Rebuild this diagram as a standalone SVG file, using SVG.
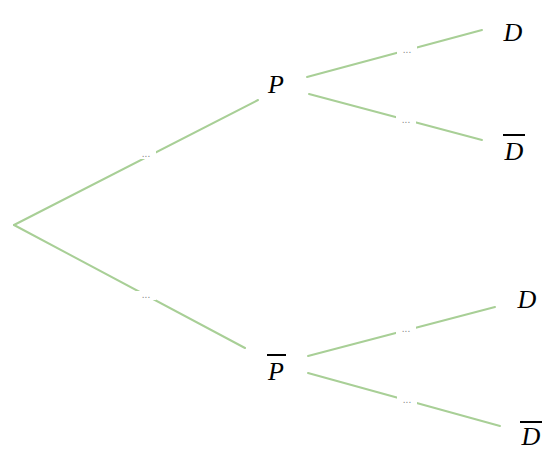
<svg xmlns="http://www.w3.org/2000/svg" width="549" height="451" viewBox="0 0 549 451">
<style>
.br{stroke:#a8cf96;stroke-width:2;fill:none;stroke-linecap:round}
.lab{font-family:"Liberation Serif","DejaVu Serif",serif;font-style:italic;font-size:26px;fill:#000;text-anchor:middle}
.bar{stroke:#000;stroke-width:2}
.dots{font-family:"Liberation Sans",sans-serif;font-size:10px;fill:#888;text-anchor:middle}
</style>
<rect width="549" height="451" fill="#fff"/>
<g id="connectors">
<line class="br" x1="14" y1="225" x2="258" y2="100"/>
<line class="br" x1="14" y1="225" x2="245" y2="348"/>
<line class="br" x1="307" y1="77" x2="482" y2="30"/>
<line class="br" x1="309" y1="94" x2="482" y2="140"/>
<line class="br" x1="308" y1="356" x2="495" y2="307"/>
<line class="br" x1="308" y1="373" x2="500" y2="426"/>
<rect x="136" y="150" width="20" height="9" fill="#fff"/>
<text class="dots" x="146" y="157">...</text>
<rect x="136" y="291" width="20" height="9" fill="#fff"/>
<text class="dots" x="146" y="298">...</text>
<rect x="397" y="46" width="20" height="9" fill="#fff"/>
<text class="dots" x="407" y="53">...</text>
<rect x="396" y="116" width="20" height="9" fill="#fff"/>
<text class="dots" x="406" y="123">...</text>
<rect x="396" y="325" width="20" height="9" fill="#fff"/>
<text class="dots" x="406" y="332">...</text>
<rect x="397" y="396" width="20" height="9" fill="#fff"/>
<text class="dots" x="407" y="403">...</text>
</g>
<g id="root"></g>
<g id="P"><text class="lab" x="276" y="93">P</text></g>
<g id="Pbar"><text class="lab" x="276" y="380">P</text><line class="bar" x1="267" y1="355" x2="286" y2="355"/></g>
<g id="D1"><text class="lab" x="513" y="41">D</text></g>
<g id="D1bar"><text class="lab" x="514" y="160">D</text><line class="bar" x1="503" y1="135" x2="525" y2="135"/></g>
<g id="D2"><text class="lab" x="527" y="308">D</text></g>
<g id="D2bar"><text class="lab" x="531" y="445">D</text><line class="bar" x1="520" y1="422" x2="542" y2="422"/></g>
</svg>
